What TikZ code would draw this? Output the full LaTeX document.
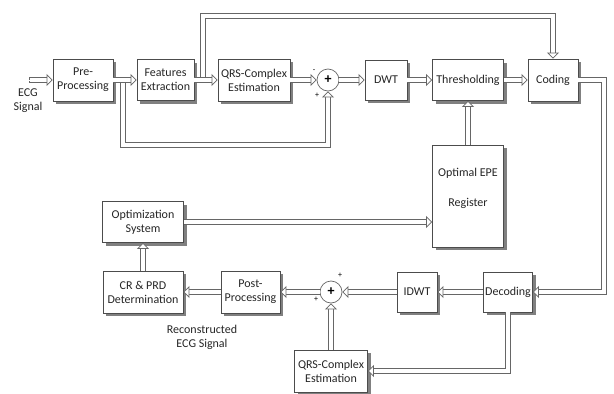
\documentclass[tikz,border=0pt]{standalone}
\usepackage{fontspec}
\setmainfont{Carlito}
\usetikzlibrary{arrows.meta,shadows}
\tikzset{
  box/.style={draw=black!70, line width=0.7pt, fill=white, align=center,
    font=\fontsize{12}{14}\selectfont, text=black!85, inner sep=1pt,
    drop shadow={shadow xshift=3pt, shadow yshift=-3pt, fill=black!50, opacity=1}},
  sumc/.style={circle, draw=black!60, line width=0.7pt, fill=white, minimum size=22pt, inner sep=0pt,
    font=\bfseries\fontsize{14}{14}\selectfont},
  txt/.style={font=\fontsize{12}{14}\selectfont, text=black!85, align=center, inner sep=0pt},
  sgn/.style={font=\fontsize{8}{8}\selectfont, inner sep=0pt},
  dbl/.style={
    preaction={draw=black!60, line width=5.6pt, shorten >=5.5pt, -},
    preaction={draw=white, line width=4pt, shorten >=5pt, -},
    draw=white, line width=0.1pt,
    -{Triangle[open, color=black!60, fill=white, length=6pt, width=12pt, line width=0.7pt]}},
  dblc/.style={
    preaction={draw=black!60, line width=5.6pt, shorten >=5.5pt, -},
    preaction={draw=white, line width=4pt, shorten >=5pt, shorten <=0.8pt, -},
    draw=white, line width=0.1pt,
    -{Triangle[open, color=black!60, fill=white, length=6pt, width=12pt, line width=0.7pt]}},
}
\begin{document}
\begin{tikzpicture}[x=1pt, y=-1pt]
\useasboundingbox (0,0) rectangle (614,394);
\fill[white] (0,0) rectangle (614,394);
% top row
\node[box, minimum width=60pt, minimum height=42pt] (pre) at (83,80) {Pre-\\Processing};
\node[box, minimum width=57pt, minimum height=41pt] (feat) at (165.5,80) {Features\\Extraction};
\node[box, minimum width=72pt, minimum height=42pt] (qrs1) at (254,80) {QRS-Complex\\Estimation};
\node[sumc] (c1) at (328,80) {+};
\node[box, minimum width=42pt, minimum height=40pt] (dwt) at (386,80) {DWT};
\node[box, minimum width=71pt, minimum height=41pt] (thr) at (468,80) {Thresholding};
\node[box, minimum width=50pt, minimum height=42pt] (cod) at (553,80) {Coding};
% register
\node[box, minimum width=71pt, minimum height=102pt] (reg) at (468,196) {};
\node[txt] (reg1) at (468,173) {Optimal EPE};
\node[txt] (reg2) at (468,203) {Register};
% optimization
\node[box, minimum width=81pt, minimum height=41pt] (opt) at (143,222) {Optimization\\System};
% bottom row
\node[box, minimum width=80pt, minimum height=42pt] (cr) at (143,292) {CR \& PRD\\Determination};
\node[box, minimum width=59pt, minimum height=42pt] (post) at (250.5,292) {Post-\\Processing};
\node[sumc] (c2) at (331,292) {+};
\node[box, minimum width=40pt, minimum height=40pt] (idwt) at (417,292) {IDWT};
\node[box, minimum width=49pt, minimum height=40pt] (dec) at (508,292) {Decoding};
\node[box, minimum width=73pt, minimum height=42pt] (qrs2) at (331,371) {QRS-Complex\\Estimation};
% labels
\node[txt] (ecg) at (28,101) {ECG\\Signal};
\node[txt] (rec) at (202,337.5) {Reconstructed\\ECG Signal};
\node[sgn] (m1) at (314,71) {-};
\node[sgn] (p1) at (317,95) {+};
\node[sgn] (p2) at (340,275) {+};
\node[sgn] (p3) at (316,299) {+};
% coordinates
\coordinate (in) at (29,80);
\coordinate (b1) at (123,80);
\coordinate (b2) at (203,80);
% connectors
\draw[dblc] (in) -- (pre.west);
\draw[dbl] (b1) -- (123,145) -| (c1.south);
\draw[dbl] (b2) -- (203,16) -| (cod.north);
\draw[dbl] (pre.east) -- (feat.west);
\draw[dbl] (feat.east) -- (qrs1.west);
\draw[dbl] (qrs1.east) -- (c1.west);
\draw[dbl] (c1.east) -- (dwt.west);
\draw[dbl] (dwt.east) -- (thr.west);
\draw[dbl] (thr.east) -- (cod.west);
\draw[dbl] (reg.north) -- (thr.south);
\draw[dbl] (cod.east) -- (604,80) |- (dec.east);
\draw[dbl] (dec.west) -- (idwt.east);
\draw[dbl] (idwt.west) -- (c2.east);
\draw[dbl] (c2.west) -- (post.east);
\draw[dbl] (post.west) -- (cr.east);
\draw[dbl] (cr.north) -- (opt.south);
\draw[dbl] (opt.east) -- (opt.east -| reg.west);
\draw[dbl] (dec.south) |- (qrs2.east);
\draw[dbl] (qrs2.north) -- (c2.south);
\end{tikzpicture}
\end{document}
